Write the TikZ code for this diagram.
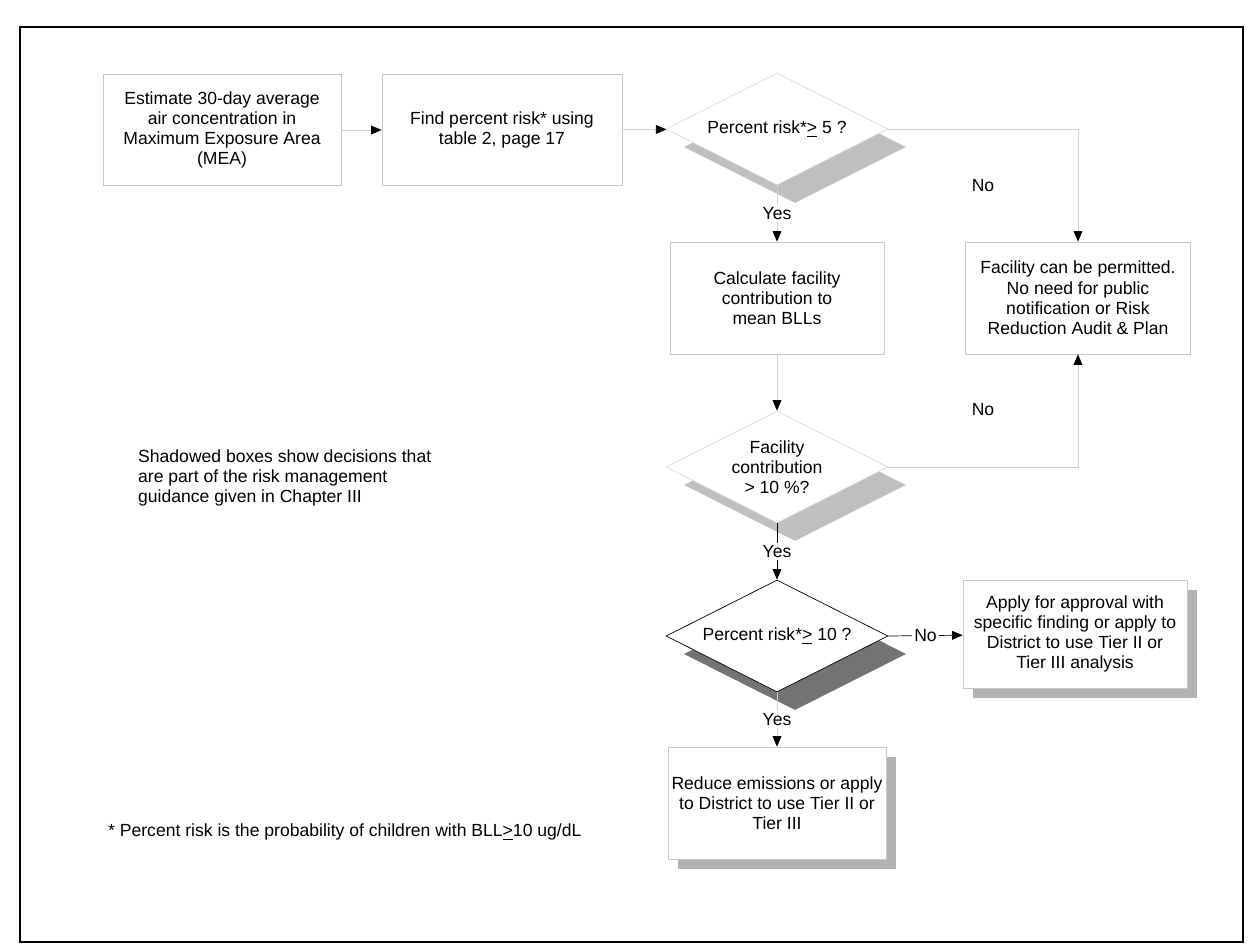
\documentclass[tikz,border=0pt]{standalone}
\usepackage{fontspec}
\setmainfont{Liberation Sans}
\usetikzlibrary{positioning, shapes.geometric, arrows.meta, shadows}

\begin{document}
\begin{tikzpicture}[
    x=0.02cm, y=-0.02cm,
    every node/.style={font=\fontsize{10}{11.5}\selectfont},
    procbox/.style={rectangle, draw=black!22, fill=white, align=center, inner sep=2pt, minimum height=2.22cm},
    shadowbox/.style={procbox, drop shadow={shadow xshift=0.2cm, shadow yshift=-0.2cm, fill=black!30, opacity=1}},
    decision/.style={diamond, draw=black!15, fill=white, aspect=2, inner sep=0pt, align=center,
      minimum width=4.44cm, minimum height=2.24cm,
      drop shadow={shadow xshift=0.36cm, shadow yshift=-0.36cm, fill=black!25, opacity=1}},
    decisionsharp/.style={decision, draw=black, line width=0.4pt,
      drop shadow={shadow xshift=0.36cm, shadow yshift=-0.36cm, fill=black!55, opacity=1}},
    flow/.style={draw=black!18, -{Triangle[color=black, length=6pt, width=5pt]}},
    sharpflow/.style={draw=black, line width=0.4pt, -{Triangle[length=6pt, width=5pt]}},
    lbl/.style={fill=white, inner sep=1.5pt},
  ]
    \useasboundingbox (0,0) rectangle (1248,952);

    % outer frame
    \draw[line width=1.6pt] (20,27) rectangle (1243,942);

    % top row
    \node[procbox, minimum width=4.76cm] (estimate) at (222,130)
      {Estimate 30-day average\\air concentration in\\Maximum Exposure Area\\(MEA)};
    \node[procbox, minimum width=4.8cm] (findrisk) at (502,130)
      {Find percent risk* using\\table 2, page 17};
    \node[decision] (riskfive) at (777,129) {Percent risk*\underline{>} 5 ?};

    % middle column
    \node[procbox, minimum width=4.28cm, minimum height=2.24cm] (calcbll) at (777,298)
      {Calculate facility\\contribution to\\mean BLLs};
    \node[decision] (contrib) at (777,467) {Facility\\contribution\\> 10 \%?};
    \node[decisionsharp] (riskten) at (777,636) {Percent risk*\underline{>} 10 ?};
    \node[shadowbox, minimum width=4.3cm, minimum height=2.24cm] (reduce) at (777,803)
      {Reduce emissions or apply\\to District to use Tier II or\\Tier III};

    % right column
    \node[procbox, minimum width=4.5cm, minimum height=2.24cm] (permit) at (1078,298)
      {Facility can be permitted.\\No need for public\\notification or Risk\\Reduction Audit \& Plan};
    \node[shadowbox, minimum width=4.48cm, minimum height=2.16cm] (approval) at (1075,634)
      {Apply for approval with\\specific finding or apply to\\District to use Tier II or\\Tier III analysis};

    % notes
    \node[anchor=west, align=left] (legend) at (132,478)
      {Shadowed boxes show decisions that\\are part of the risk management\\guidance given in Chapter III};
    \node[anchor=west] (footnote) at (102,832)
      {* Percent risk is the probability of children with BLL\underline{>}10 ug/dL};

    % connectors
    \draw[flow] (estimate) -- (findrisk);
    \draw[flow] (findrisk) -- (riskfive);
    \draw[flow] (riskfive) -- node[lbl] {Yes} (calcbll);
    \draw[flow] (riskfive.east) -| (permit.north);
    \node (nofive) at (983,186) {No};
    \draw[flow] (calcbll) -- (contrib);
    \draw[flow] (contrib.east) -| (permit.south);
    \node (nocontrib) at (983,410) {No};
    \draw[sharpflow] (contrib) -- node[lbl] {Yes} (riskten);
    \draw[sharpflow] (riskten.east) -- node[lbl] {No} (approval);
    \draw[flow] (riskten) -- node[lbl] {Yes} (reduce);
\end{tikzpicture}
\end{document}
